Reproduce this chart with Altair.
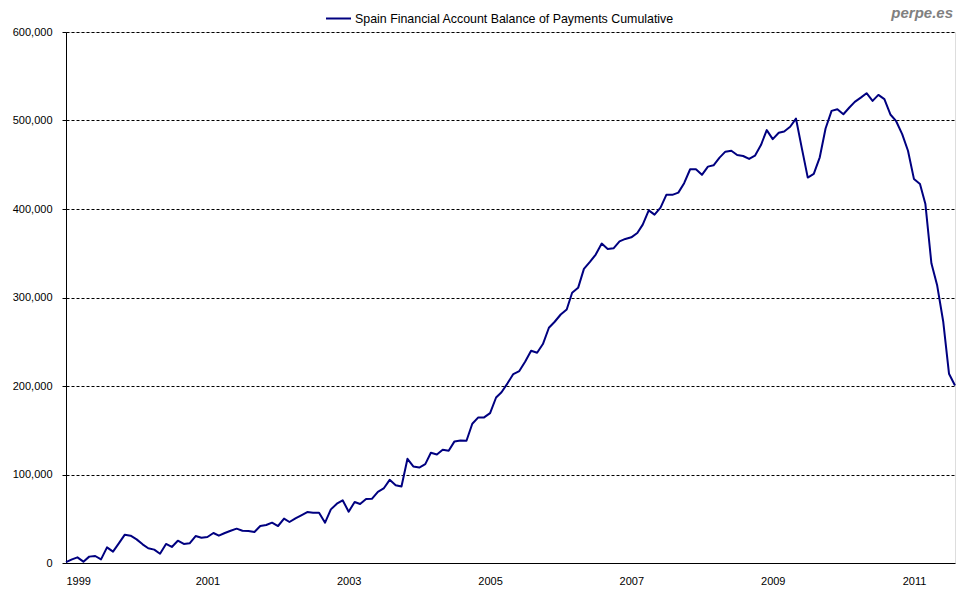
import altair as alt
import pandas as pd

SERIES = "Spain Financial Account Balance of Payments Cumulative"
BRAND = "perpe.es"
START = "1999-01-01"
NAVY = "#000080"

# monthly values, Jan 1999 .. Aug 2011 (millions EUR)
v1999 = [1000, 4100, 6400, 1500, 7200, 7900, 4100, 17700, 12800, 22200, 32000, 30900]
v2000 = [26700, 21100, 16600, 15100, 10500, 21500, 18100, 25200, 21500, 22200, 30500, 28600]
v2001 = [29400, 33900, 30900, 33900, 36500, 38800, 36500, 36200, 35000, 41800, 42900, 45600]
v2002 = [41800, 50100, 46300, 50500, 53900, 57600, 56900, 56900, 45600, 60600, 67000, 70800]
v2003 = [58000, 68900, 66700, 72300, 72500, 80400, 84200, 94000, 87900, 86400, 117700, 109100]
v2004 = [107900, 111700, 124500, 122600, 127900, 126800, 137400, 138500, 138100, 157400, 164500, 164500]
v2005 = [169400, 187000, 193000, 203000, 213500, 216900, 227400, 239800, 237600, 247400, 265800, 272600]
v2006 = [280800, 286500, 305300, 310900, 332300, 340200, 348500, 360900, 354900, 355600, 363500, 366200]
v2007 = [368000, 372900, 382300, 398500, 393600, 401500, 416000, 416000, 418500, 429200, 444900, 444900]
v2008 = [438600, 447900, 449400, 458100, 464800, 465900, 461000, 459900, 456600, 460300, 472300, 489100]
v2009 = [479000, 486100, 487600, 492900, 502200, 468000, 435500, 439600, 458400, 491000, 510900, 512800]
v2010 = [507100, 514700, 521100, 525900, 530800, 522200, 528900, 524100, 506800, 499200, 484600, 465800]
v2011 = [433800, 428200, 405600, 338700, 313500, 272900, 213900, 200500]

values = v1999 + v2000 + v2001 + v2002 + v2003 + v2004 + v2005 + v2006 + v2007 + v2008 + v2009 + v2010 + v2011
dates = pd.date_range(START, periods=len(values), freq="MS")

y_ticks = [0, 100000, 200000, 300000, 400000, 500000, 600000]
x_tick_years = [1999, 2001, 2003, 2005, 2007, 2009, 2011]

df = pd.DataFrame({"date": dates, "value": values, "series": SERIES})

FONT = "Liberation Sans"

line = alt.Chart(df).mark_line(strokeWidth=2, strokeJoin="round").encode(
    x=alt.X(
        "date:T",
        title=None,
        scale=alt.Scale(
            domain=[alt.DateTime(year=1999, month=1, date=1), alt.DateTime(year=2011, month=8, date=1)],
            nice=False,
        ),
        axis=alt.Axis(
            values=[alt.DateTime(year=y, month=1, date=1) for y in x_tick_years],
            format="%Y",
            ticks=False,
            tickSize=0,
            grid=False,
            labelPadding=12,
            labelFontSize=11,
            labelFont=FONT,
            labelColor="black",
            domainColor="black",
            labelOverlap=False,
        ),
    ),
    y=alt.Y(
        "value:Q",
        title=None,
        scale=alt.Scale(domain=[0, 600000], nice=False),
        axis=alt.Axis(
            values=y_ticks,
            format=",.0f",
            tickSize=4,
            tickColor="black",
            domainColor="black",
            labelPadding=10,
            labelFontSize=11,
            labelFont=FONT,
            labelColor="black",
            grid=True,
            gridColor="black",
            gridDash=[3, 2],
            gridOpacity=1,
            gridWidth=1,
        ),
    ),
    color=alt.Color(
        "series:N",
        scale=alt.Scale(range=[NAVY]),
        legend=alt.Legend(
            title=None,
            orient="none",
            legendX=259,
            legendY=-27,
            symbolType="stroke",
            symbolSize=625,
            symbolStrokeWidth=2,
            labelFontSize=12.4,
            labelFont=FONT,
            labelColor="black",
            labelLimit=0,
            labelOffset=3,
            padding=0,
        ),
    ),
)

brand = alt.Chart(pd.DataFrame({"t": [BRAND]})).mark_text(
    align="right",
    baseline="alphabetic",
    font=FONT,
    fontSize=15,
    fontStyle="italic",
    fontWeight="bold",
    color="#808080",
).encode(text="t:N", x=alt.value(887), y=alt.value(-14))

chart = alt.layer(line, brand).properties(
    width=889,
    height=531,
    autosize=alt.AutoSizeParams(type="none"),
    padding={"left": 58, "top": 24, "right": 17, "bottom": 29},
).configure_view(
    stroke="black",
    strokeWidth=1,
).configure(background="white")

chart.save("out.html", embed_options={"renderer": "svg", "actions": False})
